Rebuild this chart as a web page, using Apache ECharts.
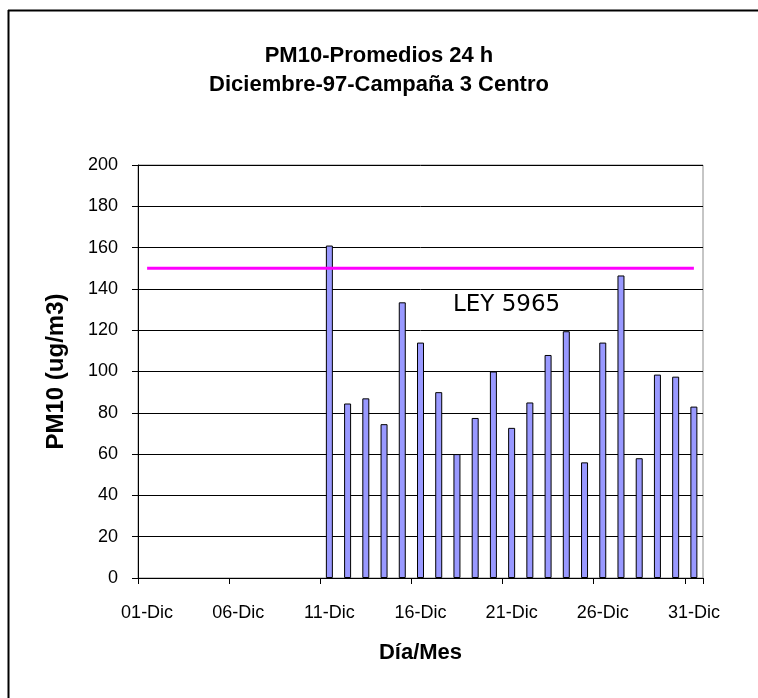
<!DOCTYPE html>
<html>
<head>
<meta charset="utf-8">
<script src="https://cdn.jsdelivr.net/npm/echarts@6/dist/echarts.min.js"></script>
<style>
html,body{margin:0;padding:0;background:#fff;}
#chart{width:758px;height:698px;}
</style>
</head>
<body>
<div id="chart"></div>
<script>
// Categories: days of December 1997
var days = ['01-Dic','02-Dic','03-Dic','04-Dic','05-Dic','06-Dic','07-Dic','08-Dic','09-Dic','10-Dic',
            '11-Dic','12-Dic','13-Dic','14-Dic','15-Dic','16-Dic','17-Dic','18-Dic','19-Dic','20-Dic',
            '21-Dic','22-Dic','23-Dic','24-Dic','25-Dic','26-Dic','27-Dic','28-Dic','29-Dic','30-Dic','31-Dic'];
// PM10 24h averages (ug/m3); no data for 01–10 Dic
var pm10 = [null,null,null,null,null,null,null,null,null,null,
            161,84.5,87,74.5,133.5,114,90,60,77.5,100,
            72.7,85,108,119.5,56,114,146.5,58,98.5,97.5,83];
// Legal limit line (LEY 5965)
var limitDays = ['01-Dic','31-Dic'];
var limitValues = [150,150];
var yTicks = {min:0, max:200, interval:20};

var chart = echarts.init(document.getElementById('chart'), null, {renderer:'canvas'});
var baseFont = 'Liberation Sans, Arial, sans-serif';
chart.setOption({
  backgroundColor:'#ffffff',
  animation:false,
  title:{
    text:'PM10-Promedios 24 h\nDiciembre-97-Campaña 3 Centro',
    left:'center', top:36,
    textStyle:{fontFamily:baseFont, fontWeight:'bold', fontSize:22, lineHeight:29, color:'#000'}
  },
  grid:{left:138, right:55, top:165, bottom:120, show:true, borderColor:'#8c8c8c', borderWidth:1, backgroundColor:'#fff'},
  xAxis:{
    type:'category', data:days, boundaryGap:true,
    name:'Día/Mes', nameLocation:'middle', nameGap:64,
    nameTextStyle:{fontFamily:baseFont, fontWeight:'bold', fontSize:22, color:'#000'},
    axisLine:{lineStyle:{color:'#000', width:1}},
    axisTick:{show:true, interval:4, length:6, lineStyle:{color:'#000'}},
    axisLabel:{interval:4, fontFamily:baseFont, fontSize:18, color:'#000', margin:26},
    splitLine:{show:false}
  },
  yAxis:{
    type:'value', min:yTicks.min, max:yTicks.max, interval:yTicks.interval,
    name:'PM10 (ug/m3)', nameLocation:'middle', nameGap:70, nameRotate:90,
    nameTextStyle:{fontFamily:baseFont, fontWeight:'bold', fontSize:24, color:'#000'},
    axisLine:{show:true, lineStyle:{color:'#000', width:1}},
    axisTick:{show:true, length:6, lineStyle:{color:'#000'}},
    axisLabel:{fontFamily:baseFont, fontSize:18, color:'#000', margin:20},
    splitLine:{show:true, lineStyle:{color:'#000', width:1}}
  },
  series:[
    {
      type:'bar', data:pm10, barWidth:7,
      itemStyle:{color:'#9999FF', borderColor:'#000', borderWidth:1}
    },
    {
      type:'line', data:limitDays.map(function(d,i){return [d, limitValues[i]];}),
      symbol:'none', lineStyle:{color:'#FF00FF', width:3}, z:5
    }
  ],
  graphic:[
    {type:'text', left:453, top:294, style:{text:'LEY 5965', fill:'#000', font:'23px "DejaVu Sans", sans-serif'}},
    {type:'line', shape:{x1:8, y1:10.5, x2:758, y2:10.5}, style:{stroke:'#000', lineWidth:2}},
    {type:'line', shape:{x1:8.5, y1:10, x2:8.5, y2:698}, style:{stroke:'#000', lineWidth:2}}
  ]
});
</script>
</body>
</html>
